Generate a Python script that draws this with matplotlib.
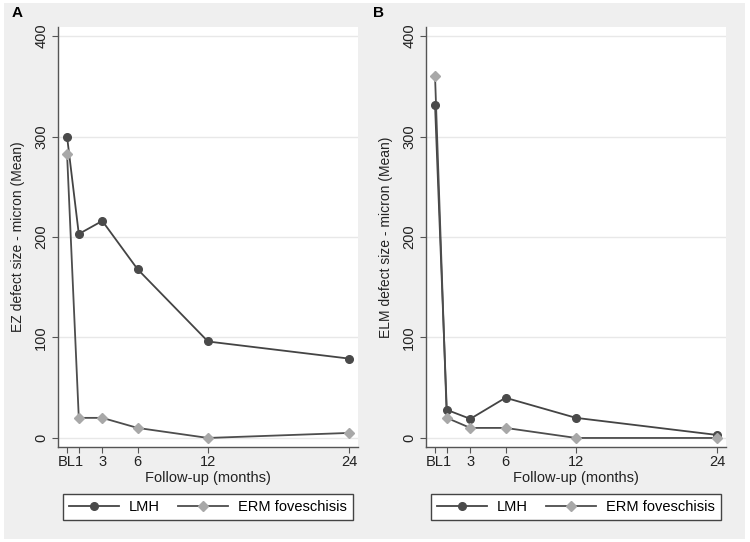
import numpy as np
import matplotlib
matplotlib.use("Agg")
from matplotlib import pyplot as plt
from matplotlib.patches import Rectangle

plt.rcParams['font.family'] = ['Liberation Sans', 'DejaVu Sans']

# follow-up months (BL = 0)
months = [0, 1, 3, 6, 12, 24]
tick_labels = ["BL", "1", "3", "6", "12", "24"]

# panel A: EZ defect size (mean, micron)
ez_lmh = [300, 203, 216, 168, 96, 79]
ez_erm = [283, 20, 20, 10, 0, 5]

# panel B: ELM defect size (mean, micron)
elm_lmh = [331, 28, 19, 40, 20, 3]
elm_erm = [360, 20, 10, 10, 0, 0]

W, H = 750, 542
fig = plt.figure(figsize=(W / 100, H / 100), dpi=100, facecolor='white')
fig.patches.append(Rectangle((4 / W, 3 / H), 741 / W, 536 / H, transform=fig.transFigure,
                             facecolor='#efefef', edgecolor='none', zorder=-10))

def px_axes(x0, x1, ytop, ybot):
    return fig.add_axes([x0 / W, 1 - ybot / H, (x1 - x0) / W, (ybot - ytop) / H])

def panel(ax, lmh, erm, ylabel):
    ax.set_facecolor('white')
    ax.plot(months, lmh, color='#444444', lw=1.3, marker='o', ms=5.5,
            mfc='#4a4a4a', mec='#4a4a4a', label='LMH', zorder=3)
    ax.plot(months, erm, color='#4d4d4d', lw=1.3, marker='D', ms=5,
            mfc='#a8a8a8', mec='#a8a8a8', label='ERM foveschisis', zorder=3)
    ax.set_xlim(-0.77, 24.77)
    ax.set_ylim(-9, 409)
    ax.set_xticks(months)
    ax.set_xticklabels(tick_labels)
    ax.set_yticks([0, 100, 200, 300, 400])
    ax.set_yticklabels(["0", "100", "200", "300", "400"], rotation=90, va='center')
    ax.yaxis.grid(True, color='#e8e8e8', lw=1)
    ax.set_axisbelow(True)
    for s in ['top', 'right']:
        ax.spines[s].set_visible(False)
    for s in ['left', 'bottom']:
        ax.spines[s].set_color('#555555')
        ax.spines[s].set_linewidth(1)
    ax.tick_params(colors='#555555', length=4, width=0.8, labelcolor='#222222', labelsize=10.5)
    ax.tick_params(axis='y', pad=3)
    ax.tick_params(axis='x', pad=2)
    ax.set_xlabel("Follow-up (months)", fontsize=10.5, color='#222222', labelpad=1)
    ax.set_ylabel(ylabel, fontsize=10, color='#222222')
    ax.yaxis.set_label_coords(-0.11, 0.5)
    leg = ax.legend(loc='lower left', bbox_to_anchor=(0.017, -0.174),
                    ncol=2, borderaxespad=0, fontsize=10.5,
                    fancybox=False, frameon=True, handlelength=3.4, handletextpad=0.7,
                    columnspacing=1.25, borderpad=0.42)
    leg.get_frame().set_edgecolor('#444444')
    leg.get_frame().set_linewidth(1)
    leg.get_frame().set_facecolor('white')
    leg.get_frame().set_alpha(1)

axA = px_axes(58, 358, 27, 447)
axB = px_axes(426, 726, 27, 447)
panel(axA, ez_lmh, ez_erm, "EZ defect size - micron (Mean)")
panel(axB, elm_lmh, elm_erm, "ELM defect size - micron (Mean)")

fig.text(12 / W, 1 - 13 / H, "A", fontsize=11, fontweight='bold', va='center', ha='left')
fig.text(373 / W, 1 - 13 / H, "B", fontsize=11, fontweight='bold', va='center', ha='left')

fig.savefig("out.png", dpi=100, facecolor=fig.get_facecolor())
